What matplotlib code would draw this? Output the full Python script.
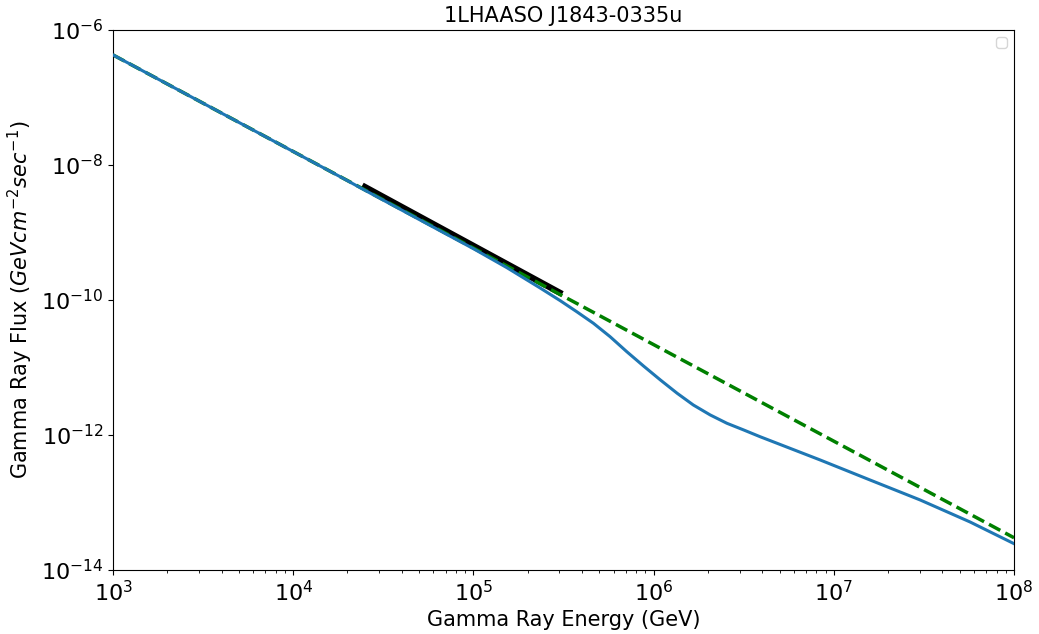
import matplotlib
matplotlib.use('Agg')
import matplotlib.pyplot as plt
from matplotlib.ticker import LogLocator, NullLocator
import numpy as np

source_name = '1LHAASO J1843-0335u'

# blue curve (absorbed spectrum)
energy = np.array([1.00e3, 1.82e4, 2.50e4, 6.53e4, 1.00e5, 1.53e5, 2.34e5,
                   3.03e5, 3.74e5, 4.63e5, 5.73e5, 7.10e5, 8.79e5, 1.09e6,
                   1.35e6, 1.66e6, 2.06e6, 2.55e6, 3.15e6, 3.89e6, 8.38e6,
                   1.59e7, 3.01e7, 5.70e7, 1.00e8])
flux = np.array([4.27e-7, 6.71e-9, 4.22e-9, 1.06e-9, 5.75e-10, 3.02e-10, 1.51e-10,
                 9.77e-11, 6.71e-11, 4.52e-11, 2.86e-11, 1.71e-11, 1.05e-11, 6.53e-12,
                 4.15e-12, 2.78e-12, 1.98e-12, 1.49e-12, 1.19e-12, 9.44e-13, 4.27e-13,
                 2.15e-13, 1.09e-13, 5.14e-14, 2.45e-14])

# green dashed power law
pl_energy = [1.0e3, 1.0e8]
pl_flux = [4.27e-7, 3.0e-14]

# black segment (measured range)
lhaaso_energy = [2.5e4, 3.0e5]
lhaaso_flux = [4.72e-9, 1.29e-10]

fig = plt.figure(figsize=(10.39, 6.34), dpi=100)
ax = fig.add_axes([0.1088, 0.101, 0.8672, 0.8517])

ax.plot(lhaaso_energy, lhaaso_flux, color='black', lw=4.5, zorder=1)
ax.plot(pl_energy, pl_flux, color='green', ls='--', lw=2.5, zorder=2)
ax.plot(energy, flux, color='#1f77b4', lw=2.2, zorder=3)

ax.set_xscale('log')
ax.set_yscale('log')
ax.set_xlim(1e3, 1e8)
ax.set_ylim(1e-14, 1e-6)
ax.yaxis.set_major_locator(LogLocator(base=10, numticks=5))
ax.yaxis.set_minor_locator(NullLocator())
ax.tick_params(axis='both', which='major', labelsize=16)
ax.set_xlabel('Gamma Ray Energy (GeV)', fontsize=15)
ax.set_ylabel(r'Gamma Ray Flux ($GeV cm^{-2} sec^{-1}$)', fontsize=15)
ax.set_title(source_name, fontsize=15)
ax.legend()

fig.savefig('out.png', dpi=100)
